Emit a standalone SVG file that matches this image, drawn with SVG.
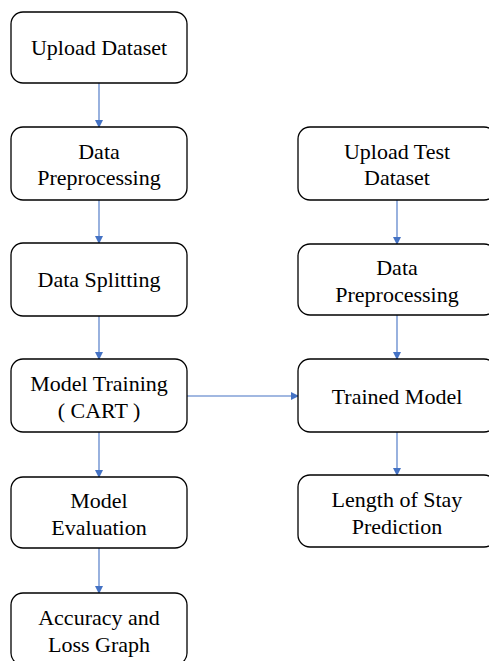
<svg xmlns="http://www.w3.org/2000/svg" width="489" height="661" viewBox="0 0 489 661">
<style>
.box{fill:#fff;stroke:#000;stroke-width:1.3}
.t{font-family:"Liberation Serif","Times New Roman",serif;font-size:22px;fill:#000;text-anchor:middle}
.c{stroke:#4472C4;stroke-width:1.1;fill:none}
</style>
<defs>
<marker id="ah" markerWidth="8" markerHeight="8" refX="7" refY="4" orient="auto" markerUnits="userSpaceOnUse">
<path d="M0,0 L8,4 L0,8 Z" fill="#4472C4"/>
</marker>
</defs>
<rect width="489" height="661" fill="#fff"/>
<g id="connectors">
<line class="c" x1="99" y1="83" x2="99" y2="127" marker-end="url(#ah)"/>
<line class="c" x1="99" y1="200" x2="99" y2="243" marker-end="url(#ah)"/>
<line class="c" x1="99" y1="316" x2="99" y2="359" marker-end="url(#ah)"/>
<line class="c" x1="99" y1="432" x2="99" y2="477" marker-end="url(#ah)"/>
<line class="c" x1="99" y1="548" x2="99" y2="593" marker-end="url(#ah)"/>
<line class="c" x1="397" y1="200" x2="397" y2="244" marker-end="url(#ah)"/>
<line class="c" x1="397" y1="315" x2="397" y2="359" marker-end="url(#ah)"/>
<line class="c" x1="397" y1="432" x2="397" y2="475" marker-end="url(#ah)"/>
<line class="c" x1="187" y1="396" x2="298" y2="396" marker-end="url(#ah)"/>
</g>
<g id="upload-dataset">
<rect class="box" x="11" y="12" width="176" height="71" rx="12"/>
<text class="t" x="99" y="55">Upload Dataset</text>
</g>
<g id="data-preprocessing">
<rect class="box" x="11" y="127" width="176" height="73" rx="12"/>
<text class="t" x="99" y="159">Data</text>
<text class="t" x="99" y="185">Preprocessing</text>
</g>
<g id="data-splitting">
<rect class="box" x="11" y="243" width="176" height="73" rx="12"/>
<text class="t" x="99" y="287">Data Splitting</text>
</g>
<g id="model-training">
<rect class="box" x="11" y="359" width="176" height="73" rx="12"/>
<text class="t" x="99" y="391">Model Training</text>
<text class="t" x="99" y="418">( CART )</text>
</g>
<g id="model-evaluation">
<rect class="box" x="11" y="477" width="176" height="71" rx="12"/>
<text class="t" x="99" y="508">Model</text>
<text class="t" x="99" y="535">Evaluation</text>
</g>
<g id="accuracy-loss">
<rect class="box" x="11" y="593" width="176" height="72" rx="12"/>
<text class="t" x="99" y="625">Accuracy and</text>
<text class="t" x="99" y="652">Loss Graph</text>
</g>
<g id="upload-test-dataset">
<rect class="box" x="298" y="127" width="198" height="73" rx="12"/>
<text class="t" x="397" y="159">Upload Test</text>
<text class="t" x="397" y="185">Dataset</text>
</g>
<g id="data-preprocessing-2">
<rect class="box" x="298" y="244" width="198" height="71" rx="12"/>
<text class="t" x="397" y="275">Data</text>
<text class="t" x="397" y="302">Preprocessing</text>
</g>
<g id="trained-model">
<rect class="box" x="298" y="359" width="198" height="73" rx="12"/>
<text class="t" x="397" y="404">Trained Model</text>
</g>
<g id="length-of-stay">
<rect class="box" x="298" y="475" width="198" height="72" rx="12"/>
<text class="t" x="397" y="507">Length of Stay</text>
<text class="t" x="397" y="534">Prediction</text>
</g>
</svg>
